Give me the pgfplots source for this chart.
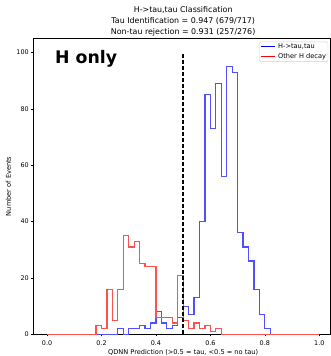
\documentclass[border=0pt]{standalone}
\usepackage{fontspec}
\setmainfont{DejaVu Sans}
\usepackage{pgfplots}
\pgfplotsset{compat=1.18}
\usepackage{pgfplotstable}
\definecolor{hblue}{RGB}{0,0,255}
\definecolor{hred}{RGB}{255,0,0}
\definecolor{lblue}{RGB}{80,80,255}
\definecolor{lred}{RGB}{255,80,80}

\pgfplotstableread{
x    blue red
0.00 0  0
0.02 0  0
0.04 0  0
0.06 0  0
0.08 0  0
0.10 0  0
0.12 0  0
0.14 0  0
0.16 0  0
0.18 0  3
0.20 0  2
0.22 0  16
0.24 0  5
0.26 2  16
0.28 0  35
0.30 2  31
0.32 2  33
0.34 3  25
0.36 2  24
0.38 4  24
0.40 8  6
0.42 4  6
0.44 2  6
0.46 3  4
0.48 6  21
0.50 10 5
0.52 7  2
0.54 13 4
0.56 40 2
0.58 85 3
0.60 73 1
0.62 89 2
0.64 56 0
0.66 95 0
0.68 93 0
0.70 36 0
0.72 31 0
0.74 26 0
0.76 16 0
0.78 7  0
0.80 2  0
0.82 0  0
0.84 0  0
0.86 0  0
0.88 0  0
0.90 0  0
0.92 0  0
0.94 0  0
0.96 0  0
0.98 0  0
1.00 0  0
}\histdata

\begin{document}
\begin{tikzpicture}
\begin{axis}[
  scale only axis,
  width=296.5pt, height=295.6pt,
  xmin=-0.05, xmax=1.04,
  ymin=0, ymax=105,
  axis line style={black, line width=0.45pt},
  tick align=outside,
  tick style={black, line width=0.45pt},
  major tick length=2pt,
  xtick={0,0.2,0.4,0.6,0.8,1.0},
  ytick={0,20,40,60,80,100},
  minor tick num=0,
  xtick pos=bottom, ytick pos=left,
  /pgf/number format/assume math mode=true,
  xticklabel style={font=\fontsize{6.4}{7}\selectfont, inner sep=0pt, yshift=-4.5pt,
    /pgf/number format/.cd, fixed, fixed zerofill, precision=1},
  yticklabel style={font=\fontsize{6.4}{7}\selectfont, inner sep=0pt, xshift=-2.5pt},
  xlabel={QDNN Prediction (>0.5 = tau, <0.5 = no tau)},
  xlabel style={font=\fontsize{6.6}{8}\selectfont, at={(axis cs:0.5,0)}, anchor=north, inner sep=0pt, yshift=-14.5pt},
  ylabel={Number of Events},
  ylabel style={font=\fontsize{6.6}{8}\selectfont, at={(axis description cs:-0.075,0.5)}, rotate=0, anchor=south, inner sep=0pt},
  every axis title shift=0pt,
  title={H->tau,tau Classification\\Tau Identification = 0.947 (679/717)\\Non-tau rejection = 0.931 (257/276)},
  title style={font=\fontsize{7.9}{10.6}\selectfont, align=center, at={(axis cs:0.5,105)}, anchor=south, inner sep=0pt, yshift=2.5pt},
  legend cell align=left,
  legend image code/.code={\draw[#1] (0pt,0pt) -- (14pt,0pt);},
  legend style={font=\fontsize{6.6}{8}\selectfont, at={(rel axis cs:1,1)}, anchor=north east,
    xshift=-2pt, yshift=-3.3pt, draw=black!18, rounded corners=1.5pt, fill=white, fill opacity=0.8, text opacity=1,
    inner xsep=1pt, inner ysep=0.7pt, row sep=1.4pt, column sep=2pt,
    nodes={inner sep=1pt}},
]
\addlegendimage{draw=hblue, line width=0.9pt}
\addlegendentry{H->tau,tau}
\addlegendimage{draw=hred, line width=0.9pt}
\addlegendentry{Other H decay}
\addplot[const plot, draw=lblue, line width=1.2pt, forget plot] table[x=x, y=blue] {\histdata};
\addplot[const plot, draw=lred, line width=1.2pt, forget plot] table[x=x, y=red] {\histdata};
\addplot[black, line width=1.5pt, dash pattern=on 4pt off 2pt, forget plot] coordinates {(0.5,0) (0.5,100)};
\node[anchor=base west, inner sep=0pt, font=\fontsize{17.3}{18}\selectfont\bfseries] at (axis cs:0.029,96) {H only};
\end{axis}
\pgfresetboundingbox
\path[use as bounding box] ([xshift=-33.4pt,yshift=-21.7pt]current axis.south west) rectangle ([yshift=38.4pt]current axis.north east);
\end{tikzpicture}
\end{document}
